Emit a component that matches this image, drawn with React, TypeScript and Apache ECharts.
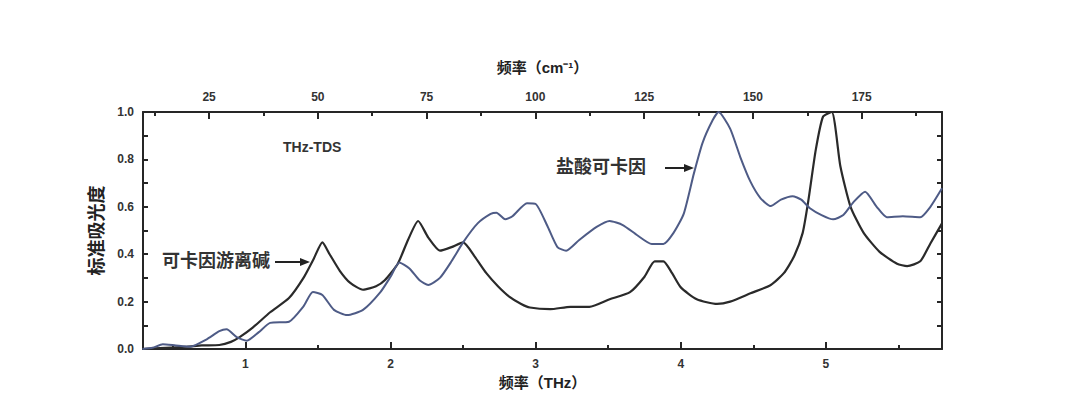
import React, { useEffect, useRef } from "react";
import * as echarts from "echarts";

const THZ_MIN = 0.294;
const THZ_MAX = 5.8;
const CM_PER_THZ = 33.356;

const thzTicks = [1, 2, 3, 4, 5];
const thzMinorTicks = [0.5, 1.5, 2.5, 3.5, 4.5, 5.5];
const cmTicks = [25, 50, 75, 100, 125, 150, 175];
const cmMinorTicks = [12.5, 37.5, 62.5, 87.5, 112.5, 137.5, 162.5, 187.5];

// 可卡因游离碱 (free base)
const freeBaseTHz = [0.29, 0.45, 0.6, 0.7, 0.82, 0.9, 0.96, 1.05, 1.17, 1.3, 1.4, 1.47, 1.53, 1.58, 1.65, 1.72, 1.81, 1.9, 1.96, 2.05, 2.12, 2.19, 2.26, 2.34, 2.42, 2.5, 2.58, 2.66, 2.74, 2.82, 2.9, 2.96, 3.1, 3.24, 3.37, 3.51, 3.65, 3.75, 3.82, 3.88, 3.94, 4.0, 4.11, 4.25, 4.34, 4.48, 4.62, 4.71, 4.78, 4.84, 4.88, 4.93, 4.98, 5.04, 5.1, 5.17, 5.26, 5.37, 5.49, 5.56, 5.65, 5.72, 5.8];
const freeBaseAbs = [0.0, 0.005, 0.01, 0.015, 0.017, 0.03, 0.05, 0.09, 0.155, 0.215, 0.3, 0.38, 0.45, 0.4, 0.33, 0.28, 0.25, 0.265, 0.29, 0.36, 0.46, 0.54, 0.47, 0.415, 0.43, 0.45, 0.39, 0.32, 0.265, 0.22, 0.19, 0.175, 0.168, 0.178, 0.178, 0.21, 0.24, 0.305, 0.37, 0.37, 0.32, 0.26, 0.21, 0.19, 0.2, 0.235, 0.27, 0.32, 0.39, 0.49, 0.63, 0.84, 0.98, 1.0, 0.77, 0.6, 0.49, 0.41, 0.36, 0.35, 0.37, 0.445, 0.53];

// 盐酸可卡因 (hydrochloride)
const hclTHz = [0.29, 0.36, 0.43, 0.52, 0.62, 0.73, 0.82, 0.87, 0.94, 1.01, 1.09, 1.17, 1.3, 1.4, 1.465, 1.53, 1.61, 1.7, 1.81, 1.93, 2.0, 2.06, 2.13, 2.2, 2.26, 2.34, 2.42, 2.5, 2.6, 2.69, 2.73, 2.79, 2.84, 2.94, 3.0, 3.08, 3.15, 3.21, 3.3, 3.42, 3.51, 3.6, 3.7, 3.8, 3.88, 3.95, 4.02, 4.09, 4.15, 4.22, 4.26, 4.34, 4.41, 4.48, 4.55, 4.62, 4.69, 4.77, 4.83, 4.89, 4.97, 5.05, 5.12, 5.19, 5.27, 5.35, 5.42, 5.53, 5.65, 5.72, 5.8];
const hclAbs = [0.0, 0.005, 0.02, 0.015, 0.01, 0.04, 0.075, 0.083, 0.05, 0.035, 0.07, 0.11, 0.115, 0.18, 0.24, 0.228, 0.165, 0.143, 0.165, 0.24, 0.305, 0.365, 0.34, 0.29, 0.27, 0.3, 0.37, 0.45, 0.53, 0.57, 0.575, 0.547, 0.56, 0.615, 0.612, 0.52, 0.43, 0.415, 0.46, 0.515, 0.54, 0.523, 0.48, 0.443, 0.443, 0.49, 0.57, 0.74, 0.87, 0.966, 1.0, 0.93, 0.81, 0.706, 0.636, 0.603, 0.63, 0.645, 0.63, 0.594, 0.565, 0.547, 0.565, 0.62, 0.664, 0.6, 0.556, 0.56, 0.556, 0.6, 0.678];

const FONT = '"Liberation Sans", "Noto Sans CJK SC", sans-serif';
const AXIS_COLOR = "#262626";
const LABEL_COLOR = "#333";

function zip(xs: number[], ys: number[]) {
  return xs.map((x, i) => [x, ys[i]]);
}

export default function App() {
  const ref = useRef<HTMLDivElement>(null);
  useEffect(() => {
    if (!ref.current) return;
    const chart = echarts.init(ref.current, undefined, { renderer: "svg" });
    const axisLine = { show: true, lineStyle: { color: AXIS_COLOR, width: 2 } };
    const labelStyle = { fontFamily: FONT, fontWeight: "bold" as const, fontSize: 12, color: LABEL_COLOR };
    const nameStyle = { fontFamily: FONT, fontWeight: "bold" as const, fontSize: 15, color: "#222" };
    chart.setOption({
      animation: false,
      backgroundColor: "#fff",
      grid: { left: 143, right: 138, top: 112, bottom: 51, containLabel: false, outerBoundsMode: "none" },
      xAxis: [
        {
          type: "value", position: "bottom", min: THZ_MIN, max: THZ_MAX,
          name: "频率（THz）", nameLocation: "middle", nameGap: 24, nameTextStyle: nameStyle,
          axisLine, splitLine: { show: false },
          axisTick: { show: true, inside: true, length: 7, customValues: thzTicks, lineStyle: { color: AXIS_COLOR, width: 2 } },
          axisLabel: { show: true, customValues: thzTicks, margin: 9, ...labelStyle },
        },
        {
          type: "value", position: "bottom", min: THZ_MIN, max: THZ_MAX,
          axisLine: { show: false }, splitLine: { show: false },
          axisTick: { show: true, inside: true, length: 4, customValues: thzMinorTicks, lineStyle: { color: AXIS_COLOR, width: 2 } },
          axisLabel: { show: false },
        },
        {
          type: "value", position: "top", min: THZ_MIN * CM_PER_THZ, max: THZ_MAX * CM_PER_THZ,
          name: "频率（cm⁻¹）", nameLocation: "middle", nameGap: 37, nameTextStyle: nameStyle,
          axisLine, splitLine: { show: false },
          axisTick: { show: true, inside: true, length: 7, customValues: cmTicks, lineStyle: { color: AXIS_COLOR, width: 2 } },
          axisLabel: { show: true, customValues: cmTicks, margin: 9, ...labelStyle },
        },
        {
          type: "value", position: "top", min: THZ_MIN * CM_PER_THZ, max: THZ_MAX * CM_PER_THZ,
          axisLine: { show: false }, splitLine: { show: false },
          axisTick: { show: true, inside: true, length: 4, customValues: cmMinorTicks, lineStyle: { color: AXIS_COLOR, width: 2 } },
          axisLabel: { show: false },
        },
      ],
      yAxis: [
        {
          type: "value", position: "left", min: 0, max: 1, interval: 0.1,
          name: "标准吸光度", nameLocation: "middle", nameGap: 32, nameRotate: 90,
          nameTextStyle: { ...nameStyle, fontSize: 18 },
          axisLine, splitLine: { show: false },
          axisTick: { show: true, inside: true, length: 5, lineStyle: { color: AXIS_COLOR, width: 2 } },
          axisLabel: {
            show: true, margin: 9, ...labelStyle,
            formatter: (v: number) => (Math.round(v * 10) % 2 === 0 ? v.toFixed(1) : ""),
          },
        },
        {
          type: "value", position: "right", min: 0, max: 1, interval: 0.1,
          axisLine, splitLine: { show: false },
          axisTick: { show: true, inside: true, length: 5, lineStyle: { color: AXIS_COLOR, width: 2 } },
          axisLabel: { show: false },
        },
      ],
      series: [
        {
          name: "可卡因游离碱", type: "line", xAxisIndex: 0, yAxisIndex: 0,
          data: zip(freeBaseTHz, freeBaseAbs), showSymbol: false, smooth: 0.2,
          lineStyle: { color: "#2a2a2a", width: 2.2 },
        },
        {
          name: "盐酸可卡因", type: "line", xAxisIndex: 0, yAxisIndex: 0,
          data: zip(hclTHz, hclAbs), showSymbol: false, smooth: 0.2,
          lineStyle: { color: "#4e5b86", width: 2 },
        },
      ],
      graphic: [
        { type: "text", left: 283, top: 140, style: { text: "THz-TDS", font: `bold 14px ${FONT}`, fill: "#333" } },
        { type: "text", left: 556, top: 158, style: { text: "盐酸可卡因", font: `bold 18px ${FONT}`, fill: "#333" } },
        { type: "line", shape: { x1: 665, y1: 168, x2: 686, y2: 168 }, style: { stroke: "#222", lineWidth: 2 } },
        { type: "polygon", shape: { points: [[694, 168], [684, 164], [684, 172]] }, style: { fill: "#222" } },
        { type: "text", left: 162, top: 252, style: { text: "可卡因游离碱", font: `bold 18px ${FONT}`, fill: "#333" } },
        { type: "line", shape: { x1: 275, y1: 262, x2: 302, y2: 262 }, style: { stroke: "#222", lineWidth: 2 } },
        { type: "polygon", shape: { points: [[310, 262], [300, 258], [300, 266]] }, style: { fill: "#222" } },
      ],
    });
    return () => chart.dispose();
  }, []);
  return <div ref={ref} style={{ position: "fixed", left: 0, top: 0, width: 1080, height: 400 }} />;
}
